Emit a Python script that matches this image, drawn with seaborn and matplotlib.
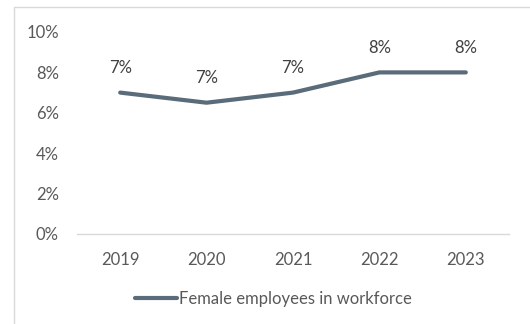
import matplotlib
matplotlib.use("Agg")
import matplotlib.pyplot as plt
import seaborn as sns
import pandas as pd
from matplotlib.patches import Rectangle
from matplotlib.ticker import FuncFormatter

years = ["2019", "2020", "2021", "2022", "2023"]
values = [7.0, 6.5, 7.0, 8.0, 8.0]
labels = ["7%", "7%", "7%", "8%", "8%"]
series_name = "Female employees in workforce"

sns.set_theme(style="white")
plt.rcParams['font.family'] = ['Lato', 'DejaVu Sans']

df = pd.DataFrame({"year": years, "value": values, "series": series_name})

fig = plt.figure(figsize=(5.30, 3.24), dpi=100)
ax = fig.add_axes([77/530, 1 - 234/324, (509-77)/530, (234-32)/324])

line_color = "#5A6B79"
sns.lineplot(data=df, x="year", y="value", hue="series", palette=[line_color],
             linewidth=3.0, ax=ax, legend=True, sort=False)
for l in ax.lines:
    l.set_solid_capstyle("round")

ax.set_xlim(-0.5, 4.5)
ax.set_ylim(0, 10)
ax.set_yticks([0, 2, 4, 6, 8, 10])
ax.yaxis.set_major_formatter(FuncFormatter(lambda v, p: f"{int(v)}%"))
ax.set_xlabel("")
ax.set_ylabel("")
for s in ["top", "right", "left"]:
    ax.spines[s].set_visible(False)
ax.spines["bottom"].set_color("#D9D9D9")
ax.spines["bottom"].set_linewidth(1.0)
ax.tick_params(axis="both", length=0, labelsize=12, colors="#595959")
ax.tick_params(axis="y", pad=13)
ax.tick_params(axis="x", pad=13)
ax.grid(False)

for i, (v, t) in enumerate(zip(values, labels)):
    ax.annotate(t, (i, v), xytext=(0, 12), textcoords="offset points",
                ha="center", va="bottom", fontsize=12, color="#404040")

leg = ax.legend(loc="center left", frameon=False,
                fontsize=12, handlelength=2.5, handletextpad=0.15, borderpad=0, borderaxespad=0)
leg.set_bbox_to_anchor((135 / 530, 1 - 299 / 324), transform=fig.transFigure)
for t in leg.get_texts():
    t.set_color("#595959")
for h in leg.get_lines():
    h.set_linewidth(3.0)
    h.set_solid_capstyle("round")

fig.patches.append(Rectangle((14/530, -0.1), 1.2, 1 - 7/324 + 0.1, transform=fig.transFigure,
                             fill=False, edgecolor="#D9D9D9", linewidth=1.0))

fig.savefig("out.png", dpi=100)
